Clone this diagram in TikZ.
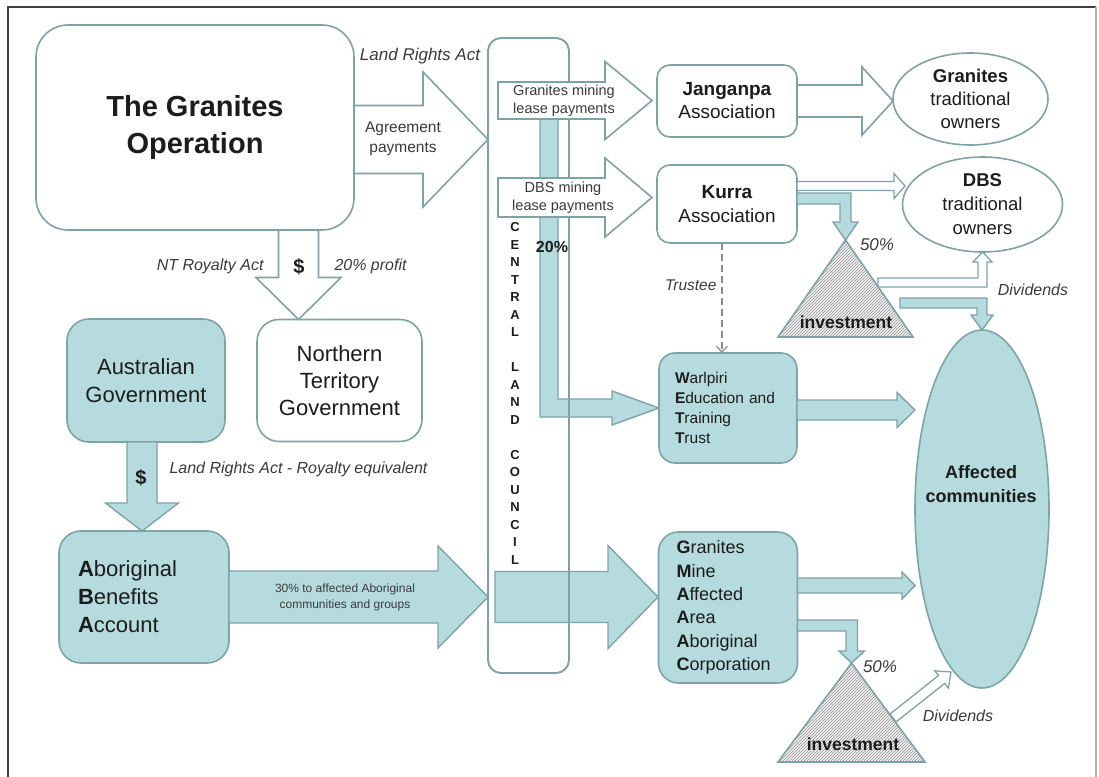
\documentclass[tikz,border=0pt]{standalone}
\usepackage{fontspec}
\setmainfont{Liberation Sans}
\usetikzlibrary{positioning, calc, arrows.meta, patterns, shapes.geometric}
\definecolor{clcline}{HTML}{7DA3A8}
\definecolor{clcfill}{HTML}{B6DBDF}
\definecolor{inktext}{HTML}{1C1C1C}
\definecolor{labelgrey}{HTML}{3A3A3A}
\tikzset{
  box/.style={
    draw=clcline,
    line width=1.6pt,
    rounded corners=14pt,
    fill=white,
    align=center,
    inner sep=0pt,
    outer sep=0pt,
    text=inktext
  },
  tealbox/.style={box, fill=clcfill},
  owner/.style={
    ellipse,
    draw=clcline,
    line width=1.6pt,
    fill=white,
    inner sep=0pt,
    outer sep=0pt
  },
  ownertext/.style={align=center, text=inktext},
  flowout/.style={draw=clcline, line width=1.6pt, fill=white, line join=miter},
  flowin/.style={draw=clcline, line width=1.4pt, fill=clcfill, line join=miter},
  invest/.style={
    draw=clcline,
    line width=1.6pt,
    preaction={fill=black!5},
    pattern=north east lines,
    pattern color=black!42
  },
  actlabel/.style={text=labelgrey, font=\itshape\fontsize{16}{19}\selectfont},
  flowtext/.style={text=labelgrey, align=center}
}
% block arrow: [style]{from}{tip}{shaft half width}{head half width}{head length}
\newcommand{\fatarrow}[6][]{%
  \coordinate (fa-base) at ($(#3)!#6!(#2)$);
  \draw[#1] ($(#2)!#4!90:(#3)$) -- ($(fa-base)!#4!90:(#3)$) -- ($(fa-base)!#5!90:(#3)$) -- (#3)
    -- ($(fa-base)!#5!-90:(#3)$) -- ($(fa-base)!#4!-90:(#3)$) -- ($(#2)!#4!-90:(#3)$) -- cycle;}

\begin{document}
\begin{tikzpicture}[x=1pt, y=-1pt]
    \useasboundingbox (0,0) rectangle (1099,776);
    \draw[line width=1.5pt, black!75] (8,780) -- (8,7) -- (1096,7);
    \draw[line width=1.5pt, black!30] (1096,7) -- (1096,780);

    % central land council strip
    \node[box, rounded corners=13pt, minimum width=81pt, minimum height=635pt] (clc) at (528.5,355.5) {};
    \draw[flowin] (540,110) -- (540,417) -- (612,417) -- (612,425) -- (659,408)
      -- (612,391) -- (612,399) -- (558,399) -- (558,110) -- cycle;
    \coordinate (cg-s) at (495,597);
    \coordinate (cg-t) at (658,597);
    \fatarrow[flowin]{cg-s}{cg-t}{25.5pt}{51.5pt}{50pt}
    \draw[draw=clcline, line width=1.6pt, rounded corners=13pt] (clc.south west) rectangle (clc.north east);
    \coordinate (gml-s) at (498,100.5);
    \coordinate (gml-t) at (652,100.5);
    \fatarrow[flowout]{gml-s}{gml-t}{18.5pt}{39pt}{47pt}
    \coordinate (dml-s) at (498,197.5);
    \coordinate (dml-t) at (652,197.5);
    \fatarrow[flowout]{dml-s}{dml-t}{19.5pt}{39.5pt}{47pt}
    \node[flowtext, font=\fontsize{14.5}{18.3}\selectfont] (gmlLbl) at (564,101) {Granites mining\\lease payments};
    \node[flowtext, font=\fontsize{14.5}{18.3}\selectfont] (dmlLbl) at (563,198) {DBS mining\\lease payments};
    \node[font=\bfseries\fontsize{13}{17.5}\selectfont, align=center, text=inktext] (clcname) at (515,393.5)
      {C\\E\\N\\T\\R\\A\\L\\[17.5pt]L\\A\\N\\D\\[17.5pt]C\\O\\U\\N\\C\\I\\L};
    \node[font=\bfseries\fontsize{16}{19}\selectfont, text=inktext] (pct20) at (552,247) {20\%};

    % left side
    \node[box, rounded corners=32pt, minimum width=318pt, minimum height=205pt,
      font=\bfseries\fontsize{29}{37}\selectfont] (op) at (195,127.5) {The Granites\\Operation};
    \node[tealbox, rounded corners=22pt, minimum width=158pt, minimum height=123pt,
      font=\fontsize{22}{28}\selectfont] (ausgov) at (146,380.5) {Australian\\Government};
    \node[box, rounded corners=22pt, minimum width=165pt, minimum height=122pt, right=32pt of ausgov,
      font=\fontsize{22}{27}\selectfont] (ntgov) {Northern\\Territory\\Government};
    \node[tealbox, rounded corners=22pt, text width=132pt, inner xsep=19pt, minimum height=132pt, align=left,
      font=\fontsize{22}{28}\selectfont] (aba) at (144,597)
      {\textbf{A}boriginal\\\textbf{B}enefits\\\textbf{A}ccount};

    \coordinate (agr-s) at (op.east |- 0,139.5);
    \coordinate (agr-t) at (clc.west |- 0,139.5);
    \fatarrow[flowout]{agr-s}{agr-t}{34pt}{67.5pt}{65pt}
    \node[actlabel, font=\itshape\fontsize{17}{20}\selectfont] (lraLbl) at (420,56) {Land Rights Act};
    \node[flowtext, font=\fontsize{15.5}{20}\selectfont] (agrLbl) at (403,139) {Agreement\\payments};

    \coordinate (ntr-s) at (298.5,230);
    \coordinate (ntr-t) at (ntgov.north -| 298.5,0);
    \fatarrow[flowout]{ntr-s}{ntr-t}{20pt}{42.5pt}{42pt}
    \node[font=\bfseries\fontsize{20}{24}\selectfont, text=inktext] (usd1) at (299,267) {\$};
    \node[actlabel, anchor=east] (ntraLbl) at (267,266) {NT Royalty Act};
    \node[actlabel, anchor=west] (profLbl) at (331,266) {20\% profit};

    \coordinate (ab-s) at (ausgov.south -| 142,0);
    \coordinate (ab-t) at (aba.north -| 142,0);
    \fatarrow[flowin]{ab-s}{ab-t}{15pt}{36.5pt}{28pt}
    \node[font=\bfseries\fontsize{20}{24}\selectfont, text=inktext] (usd2) at (141,478) {\$};
    \node[actlabel, anchor=west] (roylLbl) at (166,469) {Land Rights Act - Royalty equivalent};

    \coordinate (ac-t) at (clc.west |- aba.east);
    \fatarrow[flowin]{aba.east}{ac-t}{26pt}{51pt}{50pt}
    \node[flowtext, font=\fontsize{12}{16}\selectfont] (pct30) at (345,597) {30\% to affected Aboriginal\\communities and groups};

    % right side
    \node[box, rounded corners=13pt, minimum width=140pt, minimum height=72pt,
      font=\fontsize{19}{23}\selectfont] (jang) at (727,101) {\textbf{Janganpa}\\Association};
    \node[box, rounded corners=13pt, minimum width=140pt, minimum height=78pt, below=28pt of jang,
      font=\fontsize{19}{24}\selectfont] (kurra) {\textbf{Kurra}\\Association};
    \node[tealbox, rounded corners=16pt, text width=106pt, inner xsep=16pt, minimum height=110pt, align=left,
      font=\fontsize{15.5}{20}\selectfont] (wett) at (728,408)
      {\textbf{W}arlpiri\\\textbf{E}ducation and\\\textbf{T}raining\\\textbf{T}rust};
    \node[tealbox, rounded corners=20pt, text width=103pt, inner xsep=18pt, minimum height=151pt, align=left,
      below=69pt of wett, font=\fontsize{18}{23.4}\selectfont] (gmaaac)
      {\textbf{G}ranites\\\textbf{M}ine\\\textbf{A}ffected\\\textbf{A}rea\\\textbf{A}boriginal\\\textbf{C}orporation};
    \node[owner, minimum width=155pt, minimum height=92pt] (gtown) at (970.5,99) {};
    \node[ownertext, font=\fontsize{18.5}{23}\selectfont] (gtownLbl) at (gtown) {\textbf{Granites}\\traditional\\owners};
    \node[owner, minimum width=160pt, minimum height=95pt] (dbsown) at (982.5,204.5) {};
    \node[ownertext, font=\fontsize{18.5}{24}\selectfont] (dbsownLbl) at (dbsown) {\textbf{DBS}\\traditional\\owners};
    \node[owner, fill=clcfill, minimum width=134pt, minimum height=358pt] (aff) at (982,509) {};
    \node[ownertext, font=\bfseries\fontsize{18}{24}\selectfont] (affLbl) at (981,484) {Affected\\communities};

    \coordinate (jg-t) at (gtown.west |- jang.east);
    \fatarrow[flowout]{jang.east}{jg-t}{16pt}{34pt}{31pt}
    \coordinate (kd-s) at (kurra.east |- 0,186);
    \coordinate (kd-t) at (905,186);
    \fatarrow[flowout, line width=1.3pt]{kd-s}{kd-t}{4.5pt}{12.5pt}{11pt}

    \draw[black!45, line width=1.2pt, dash pattern=on 7pt off 4pt, -{Straight Barb[length=6pt, width=11pt]}]
      ([xshift=-5pt]kurra.south) -- ([xshift=-5pt]kurra.south |- wett.north);
    \node[actlabel, anchor=east, font=\itshape\fontsize{15.5}{18}\selectfont] (trustLbl) at (720,285) {Trustee};

    % investments
    \coordinate (inv1-top) at (845.5,240);
    \draw[invest] (inv1-top) -- (778,337) -- (913,337) -- cycle;
    \node[font=\bfseries\fontsize{17.5}{20}\selectfont, text=inktext] (inv1) at (846,322) {investment};
    \coordinate (inv2-top) at (851.5,663);
    \draw[invest] (inv2-top) -- (778,762) -- (925,762) -- cycle;
    \node[font=\bfseries\fontsize{17.5}{20}\selectfont, text=inktext] (inv2) at (853,744) {investment};

    \draw[flowin] (kurra.east |- 0,193) -- ++(54,0) -- ++(0,29) -- ++(7,0) -- (inv1-top)
      -- ++(-12.5,-18) -- ++(7,0) -- ++(0,-18) -- (kurra.east |- 0,204) -- cycle;
    \node[actlabel, font=\itshape\fontsize{17}{20}\selectfont] (pct50a) at (877,245) {50\%};
    \draw[flowout, line width=1.3pt] (878,278) -- ++(100,0) -- ++(0,-16) -- ++(-5,0) -- (dbsown.south)
      -- ++(9.5,10) -- ++(-5,0) -- ++(0,25) -- ++(-109,0) -- cycle;
    \draw[flowin] (900,298) -- ++(87,0) -- ++(0,17) -- ++(6,0) -- (aff.north)
      -- ++(-11,-15) -- ++(6,0) -- ++(0,-7) -- ++(-77,0) -- cycle;
    \node[actlabel] (divLbl1) at (1033,290) {Dividends};

    \coordinate (wa-s) at (wett.east |- 0,410);
    \coordinate (wa-t) at (915,410);
    \fatarrow[flowin]{wa-s}{wa-t}{10pt}{17.5pt}{18pt}
    \coordinate (ga-s) at (gmaaac.east |- 0,585.5);
    \coordinate (ga-t) at (915,585.5);
    \fatarrow[flowin]{ga-s}{ga-t}{7.5pt}{13.5pt}{13pt}

    \draw[flowin] (gmaaac.east |- 0,620) -- ++(60,0) -- ++(0,31) -- ++(7,0) -- (inv2-top)
      -- ++(-12.5,-12) -- ++(7,0) -- ++(0,-20) -- (gmaaac.east |- 0,631) -- cycle;
    \node[actlabel, font=\itshape\fontsize{17}{20}\selectfont] (pct50b) at (880,667) {50\%};
    \coordinate (div2-s) at (893,718);
    \coordinate (div2-t) at (951,672);
    \fatarrow[flowout, line width=1.3pt]{div2-s}{div2-t}{5pt}{11pt}{12pt}
    \node[actlabel] (divLbl2) at (958,716) {Dividends};
\end{tikzpicture}
\end{document}
